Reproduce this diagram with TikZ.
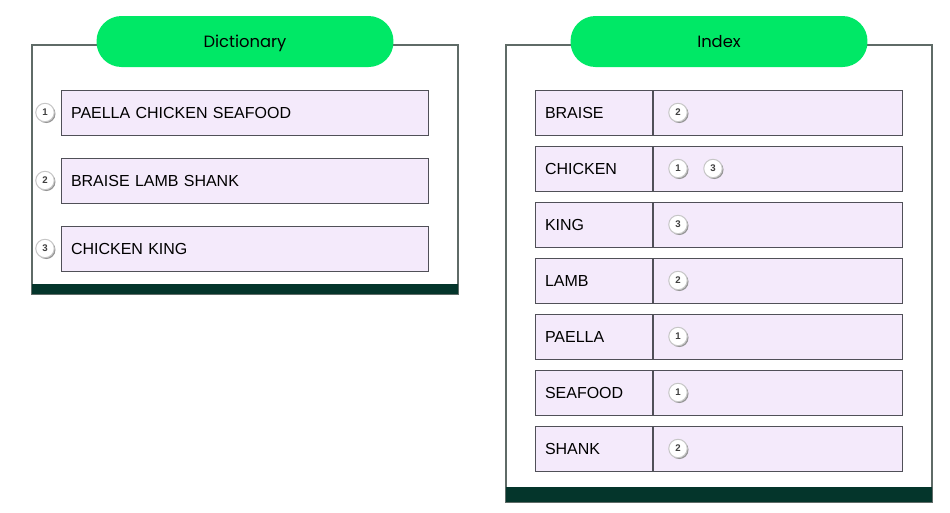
\documentclass[tikz,border=0pt]{standalone}
\usepackage{fontspec}
\setmainfont{Liberation Sans}
\newfontfamily\titlefont{Poppins}
\usetikzlibrary{shadows}

\definecolor{pillgreen}{HTML}{00E866}
\definecolor{bardark}{HTML}{04352B}
\definecolor{panelgray}{HTML}{5F6B67}
\definecolor{rowfill}{HTML}{F4EAFB}
\definecolor{rowline}{HTML}{505058}

\begin{document}
\begin{tikzpicture}[
            x = .02cm, y = -.02cm,
            every node/.style={text depth=0pt},
            panel/.style={draw=panelgray, line width = .03cm},
            bar/.style={fill=bardark},
            pill/.style={fill=pillgreen, rounded corners=.5cm, minimum width=5.94cm, minimum height=1.02cm, font=\titlefont\fontsize{9.3}{11}\selectfont},
            entry/.style={draw=rowline, fill=rowfill, line width = .02cm, minimum height=.9cm, text width=6.96cm, inner xsep=.2cm, align=left, font=\fontsize{9.1}{11}\selectfont},
            word/.style={entry, text width=1.96cm},
            refs/.style={draw=rowline, fill=rowfill, line width = .02cm, minimum height=.9cm, minimum width=5cm},
            num/.style={circle, draw=gray!45, fill=white, inner sep=0pt, minimum size=.37cm, line width = .02cm, text=black!75, font=\bfseries\fontsize{5.5}{5.5}\selectfont, drop shadow={shadow xshift=.025cm, shadow yshift=-.025cm, fill=gray!85, opacity=1}},
            ]
        \useasboundingbox (0, 0) rectangle (950, 512);

        % dictionary
        \draw[panel] (32, 45) rectangle (458, 294);
        \fill[bar] (32, 284) rectangle (458, 294);
        \node[pill] (dict) at (245, 41.5) {Dictionary};

        \node[entry] (d1) at (245, 112.5) {PAELLA CHICKEN SEAFOOD};
        \node[entry] (d2) at (245, 180.5) {BRAISE LAMB SHANK};
        \node[entry] (d3) at (245, 248.5) {CHICKEN KING};
        \node[num] (n1) at (45, 112.5) {1};
        \node[num] (n2) at (45, 180.5) {2};
        \node[num] (n3) at (45, 248.5) {3};

        % index
        \draw[panel] (506, 45) rectangle (932, 502);
        \fill[bar] (506, 487) rectangle (932, 502);
        \node[pill] (index) at (719, 41.5) {Index};

        \node[refs] (braise-refs) at (778, 112.5) {};
        \node[refs] (chicken-refs) at (778, 168.5) {};
        \node[refs] (king-refs) at (778, 224.5) {};
        \node[refs] (lamb-refs) at (778, 280.5) {};
        \node[refs] (paella-refs) at (778, 336.5) {};
        \node[refs] (seafood-refs) at (778, 392.5) {};
        \node[refs] (shank-refs) at (778, 448.5) {};

        \node[word] (braise) at (594, 112.5) {BRAISE};
        \node[word] (chicken) at (594, 168.5) {CHICKEN};
        \node[word] (king) at (594, 224.5) {KING};
        \node[word] (lamb) at (594, 280.5) {LAMB};
        \node[word] (paella) at (594, 336.5) {PAELLA};
        \node[word] (seafood) at (594, 392.5) {SEAFOOD};
        \node[word] (shank) at (594, 448.5) {SHANK};

        \node[num] (braise-2) at (678, 112.5) {2};
        \node[num] (chicken-1) at (678, 168.5) {1};
        \node[num] (chicken-3) at (713, 168.5) {3};
        \node[num] (king-3) at (678, 224.5) {3};
        \node[num] (lamb-2) at (678, 280.5) {2};
        \node[num] (paella-1) at (678, 336.5) {1};
        \node[num] (seafood-1) at (678, 392.5) {1};
        \node[num] (shank-2) at (678, 448.5) {2};
    \end{tikzpicture}
\end{document}
